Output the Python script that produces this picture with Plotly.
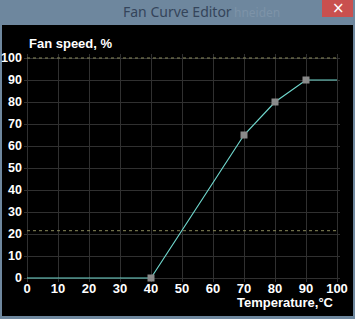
import plotly.graph_objects as go

# Data
temps = [0, 40, 70, 80, 90, 100]
speeds = [0, 0, 65, 80, 90, 90]
ctrl_temps = [40, 70, 80, 90]
ctrl_speeds = [0, 65, 80, 90]
limit_high = 100
limit_low = 21.5
x_ticks = [0, 10, 20, 30, 40, 50, 60, 70, 80, 90, 100]
y_ticks = [0, 10, 20, 30, 40, 50, 60, 70, 80, 90, 100]

W, H = 355, 319
# pixel mapping: x 0->27, 100->337 ; y 0->278, 100->58
xr = [-1, 101]
yr = [-2, 102]
xpx = lambda v: 27 + (v * 3.1)
ypx = lambda v: 278 - (v * 2.2)

font_lbl = dict(family="Liberation Sans, Arial, sans-serif",
                size=13, color="white", weight="bold")
font_ytick = dict(family="Liberation Sans, Arial, sans-serif",
                  size=12.5, color="white", weight="bold")

fig = go.Figure()

for lv in [limit_high, limit_low]:
    fig.add_trace(go.Scatter(x=[0, 100], y=[lv, lv], mode="lines",
                             line=dict(color="#8a8a5c", width=1, dash="3px,3px"),
                             hoverinfo="skip", showlegend=False))

fig.add_trace(go.Scatter(x=temps, y=speeds, mode="lines",
                         line=dict(color="#6fd6cc", width=1.2),
                         showlegend=False))
fig.add_trace(go.Scatter(x=ctrl_temps, y=ctrl_speeds, mode="markers",
                         marker=dict(symbol="square", size=7, color="#8a8a8a"),
                         showlegend=False, cliponaxis=False))

fig.update_layout(
    width=W, height=H, autosize=False,
    margin=dict(l=0, r=0, t=0, b=0, autoexpand=False),
    paper_bgcolor="#6e879e",
    plot_bgcolor="rgba(0,0,0,0)",
    xaxis=dict(range=xr, domain=[xpx(xr[0]) / W, xpx(xr[1]) / W], tickvals=x_ticks,
               ticktext=[str(v) for v in x_ticks], tickfont=font_lbl, automargin=False,
               showgrid=True, gridcolor="#303030", gridwidth=1, zeroline=False,
               showline=False, ticks="", ticklabelstandoff=-3, fixedrange=True),
    yaxis=dict(range=yr, domain=[(H - ypx(yr[0])) / H, (H - ypx(yr[1])) / H], tickvals=y_ticks,
               ticktext=[str(v) for v in y_ticks], tickfont=font_ytick, automargin=False,
               showgrid=True, gridcolor="#303030", gridwidth=1, zeroline=False,
               showline=False, ticks="", ticklabelstandoff=1, fixedrange=True),
    shapes=[
        dict(type="rect", xref="paper", yref="paper", x0=2 / W, x1=353 / W,
             y0=(H - 316) / H, y1=(H - 25) / H, fillcolor="black", line=dict(width=0), layer="below"),
        dict(type="rect", xref="paper", yref="paper", x0=322 / W, x1=353 / W,
             y0=(H - 17) / H, y1=1, fillcolor="#c9504f", line=dict(width=0), layer="below"),
    ],
    annotations=[
        dict(text="Fan Curve Editor", xref="paper", yref="paper", x=177 / W, y=(H - 12) / H,
             showarrow=False, font=dict(family="Noto Sans, Open Sans, sans-serif", size=14, color="#34445a"),
             xanchor="center", yanchor="middle"),
        dict(text="hneiden", xref="paper", yref="paper", x=232 / W, y=(H - 13) / H,
             showarrow=False, font=dict(family="Noto Sans, sans-serif", size=12, color="#7d93a8"),
             xanchor="left", yanchor="middle"),
        dict(text="×", xref="paper", yref="paper", x=338 / W, y=(H - 8) / H,
             showarrow=False, font=dict(family="DejaVu Sans, sans-serif", size=15, color="white"),
             xanchor="center", yanchor="middle"),
        dict(text="Fan speed, %", xref="paper", yref="paper", x=27 / W, y=(H - 43) / H,
             showarrow=False, font=font_lbl, xanchor="left", yanchor="middle"),
        dict(text="Temperature,°C", xref="paper", yref="paper", x=336 / W, y=(H - 302.5) / H,
             showarrow=False, font=font_lbl, xanchor="right", yanchor="middle"),
    ],
)

fig.write_html("out.html")
